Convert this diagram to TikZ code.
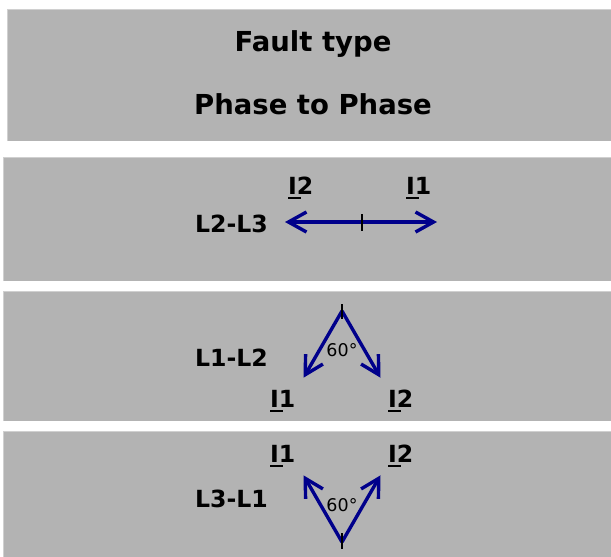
\documentclass[tikz,border=0pt]{standalone}
\usepackage{fontspec}
\setmainfont{DejaVu Sans}
\usetikzlibrary{arrows.meta}
\definecolor{panelgray}{HTML}{B3B3B3}
\definecolor{paneledge}{HTML}{D0D0D0}
\definecolor{phasorblue}{HTML}{00008B}
\newcommand\ulbar[1]{\rlap{\rule[-5pt]{13pt}{2pt}}#1}
\begin{document}
\begin{tikzpicture}[x=1pt,y=-1pt,
 panelbox/.style={fill=panelgray},
 paneltop/.style={draw=paneledge, line width=1pt},
 titletext/.style={font=\fontsize{27.5}{30}\selectfont\bfseries, inner sep=0, anchor=base},
 lbltext/.style={font=\fontsize{23.6}{26}\selectfont\bfseries, inner sep=0, anchor=base west},
 angtext/.style={font=\fontsize{17.5}{19}\selectfont, inner sep=0},
 phasor/.style={draw=phasorblue, line width=3.4pt, -{Straight Barb[length=18pt,width=20pt]}},
 tickline/.style={draw=black, line width=1.2pt}]
\useasboundingbox (0,0) rectangle (611,557);
% panels
\fill[panelbox] (7,9) rectangle (611,141);
\fill[panelbox] (3,157) rectangle (611,281);
\fill[panelbox] (3,291) rectangle (611,421);
\fill[panelbox] (3,431) rectangle (611,557);
\draw[paneltop] (7.5,141) -- (7.5,9.5) -- (611,9.5);
\draw[paneltop] (3.5,281) -- (3.5,157.5) -- (611,157.5);
\draw[paneltop] (3.5,421) -- (3.5,291.5) -- (611,291.5);
\draw[paneltop] (3.5,557) -- (3.5,431.5) -- (611,431.5);
% title
\node[titletext] (t1) at (313,51) {Fault type};
\node[titletext] (t2) at (313,114) {Phase to Phase};
% panel 2: L2-L3
\node[lbltext] (l23) at (195,232) {L2-L3};
\node[lbltext] (p2i2) at (288,194) {\ulbar{I}2};
\node[lbltext] (p2i1) at (406,194) {\ulbar{I}1};
\coordinate (o2) at (362,222);
\coordinate (a2l) at (285,222);
\coordinate (a2r) at (437,222);
\coordinate (o2t) at (362,214);
\coordinate (o2b) at (362,231);
\draw[phasor] (o2) -- (a2l);
\draw[phasor] (o2) -- (a2r);
\draw[tickline] (o2t) -- (o2b);
% panel 3: L1-L2
\node[lbltext] (l12) at (195,366) {L1-L2};
\node[lbltext] (p3i1) at (270,407) {\ulbar{I}1};
\node[lbltext] (p3i2) at (388,407) {\ulbar{I}2};
\node[angtext] (ang3) at (342,350) {60°};
\coordinate (o3) at (342,311);
\coordinate (a3l) at (303.5,377.7);
\coordinate (a3r) at (380.5,377.7);
\coordinate (o3t) at (342,304);
\coordinate (o3b) at (342,319);
\draw[phasor] (o3) -- (a3l);
\draw[phasor] (o3) -- (a3r);
\draw[tickline] (o3t) -- (o3b);
% panel 4: L3-L1
\node[lbltext] (l31) at (195,507) {L3-L1};
\node[lbltext] (p4i1) at (270,462) {\ulbar{I}1};
\node[lbltext] (p4i2) at (388,462) {\ulbar{I}2};
\node[angtext] (ang4) at (342,505) {60°};
\coordinate (o4) at (342,542);
\coordinate (a4l) at (303.5,475.3);
\coordinate (a4r) at (380.5,475.3);
\coordinate (o4t) at (342,533);
\coordinate (o4b) at (342,549);
\draw[phasor] (o4) -- (a4l);
\draw[phasor] (o4) -- (a4r);
\draw[tickline] (o4t) -- (o4b);
\end{tikzpicture}
\end{document}
